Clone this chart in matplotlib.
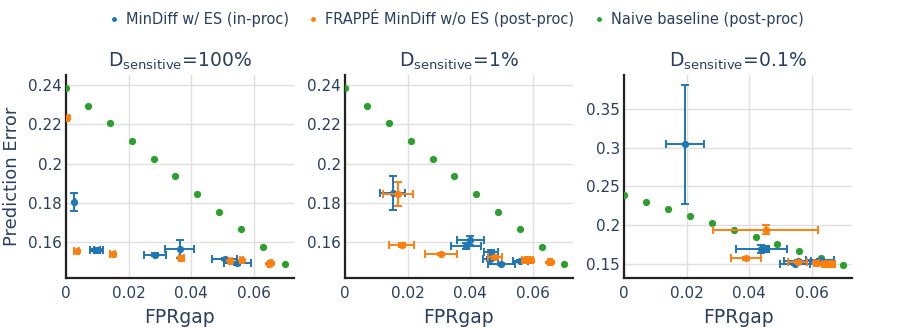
import matplotlib.pyplot as plt
from matplotlib.lines import Line2D
from matplotlib.ticker import FuncFormatter
import numpy as np

TXT = '#2a3f5f'
BLUE = '#1f77b4'
ORANGE = '#ff7f0e'
GREEN = '#2ca02c'

titles = ['D$_{\\mathrm{sensitive}}$=100%', 'D$_{\\mathrm{sensitive}}$=1%', 'D$_{\\mathrm{sensitive}}$=0.1%']
legendLabels = ['MinDiff w/ ES (in-proc)', 'FRAPPÉ MinDiff w/o ES (post-proc)', 'Naive baseline (post-proc)']

# naive baseline, same in every panel
naiveX = [0.0, 0.007, 0.014, 0.021, 0.028, 0.035, 0.042, 0.049, 0.056, 0.063, 0.070]
naiveY = [0.2385, 0.2295, 0.2205, 0.2116, 0.2026, 0.1937, 0.1847, 0.1757, 0.1668, 0.1578, 0.1488]

# MinDiff w/ ES
mdX = [[0.0027, 0.0093, 0.0103, 0.0285, 0.0364, 0.0508, 0.0548],
       [0.0153, 0.0401, 0.0387, 0.0468, 0.0465, 0.0500, 0.0561],
       [0.0195, 0.0438, 0.0454, 0.0545, 0.0555, 0.0625]]
mdY = [[0.1805, 0.1563, 0.1563, 0.1538, 0.1566, 0.1516, 0.1493],
       [0.1851, 0.1610, 0.1583, 0.1549, 0.1516, 0.1489, 0.1504],
       [0.3047, 0.1694, 0.1690, 0.1496, 0.1539, 0.1552]]
mdXerr = [[0.0003, 0.0015, 0.0015, 0.0034, 0.0047, 0.0040, 0.0044],
          [0.0040, 0.0044, 0.0047, 0.0022, 0.0024, 0.0044, 0.0024],
          [0.0060, 0.0082, 0.0010, 0.0048, 0.0043, 0.0045]]
mdYerr = [[0.0047, 0.0005, 0.0005, 0.0006, 0.0047, 0.0007, 0.0006],
          [0.0085, 0.0022, 0.0015, 0.0013, 0.0010, 0.0005, 0.0005],
          [0.0770, 0.0050, 0.0040, 0.0010, 0.0010, 0.0010]]

# FRAPPE MinDiff w/o ES
frX = [[0.0002, 0.0034, 0.0149, 0.0368, 0.0526, 0.0562, 0.0650, 0.0656],
       [0.0169, 0.0181, 0.0307, 0.0479, 0.0575, 0.0585, 0.0595, 0.0652, 0.0658],
       [0.0452, 0.0388, 0.0555, 0.0614, 0.0640, 0.0650, 0.0658, 0.0665]]
frY = [[0.2234, 0.1556, 0.1539, 0.1521, 0.1507, 0.1509, 0.1492, 0.1495],
       [0.1845, 0.1587, 0.1541, 0.1524, 0.1508, 0.1509, 0.1508, 0.1498, 0.1500],
       [0.1939, 0.1568, 0.1520, 0.1510, 0.1495, 0.1495, 0.1495, 0.1495]]
frXerr = [[0.0008, 0.0008, 0.0008, 0.0008, 0.0004, 0.0004, 0.0003, 0.0003],
          [0.0049, 0.0039, 0.0052, 0.0022, 0.0008, 0.0008, 0.0008, 0.0003, 0.0003],
          [0.0168, 0.0048, 0.0030, 0.0008, 0.0008, 0.0008, 0.0008, 0.0008]]
frYerr = [[0.0007, 0.0007, 0.0007, 0.0007, 0.0004, 0.0004, 0.0003, 0.0003],
          [0.0060, 0.0010, 0.0005, 0.0008, 0.0006, 0.0006, 0.0006, 0.0003, 0.0003],
          [0.0060, 0.0015, 0.0012, 0.0012, 0.0012, 0.0012, 0.0012, 0.0012]]

yLims = [(0.1419, 0.2451), (0.1419, 0.2451), (0.1315, 0.3943)]
yTicks = [[0.16, 0.18, 0.2, 0.22, 0.24], [0.16, 0.18, 0.2, 0.22, 0.24], [0.15, 0.2, 0.25, 0.3, 0.35]]
xTicks = [0, 0.02, 0.04, 0.06]

plt.rcParams['font.family'] = 'DejaVu Sans'

fig = plt.figure(figsize=[9, 3.3], dpi=100)
lefts = [66, 345, 624.3]
W, H = 900.0, 330.0
fmt = FuncFormatter(lambda v, p: '%g' % round(v, 4))

for i in range(3):
    ax = fig.add_axes([lefts[i] / W, (H - 278) / H, 227.5 / W, 203 / H])
    ax.set_axisbelow(True)
    ax.grid(True, color='#e0e0e0', linewidth=1.0)
    for side in ['top', 'right']:
        ax.spines[side].set_visible(False)
    for side in ['left', 'bottom']:
        ax.spines[side].set_color('#222222')
        ax.spines[side].set_linewidth(1.6)

    ax.plot(naiveX, naiveY, 'o', color=GREEN, markersize=4.2, zorder=3)
    ax.errorbar(mdX[i], mdY[i], xerr=mdXerr[i], yerr=mdYerr[i], fmt='o', color=BLUE,
                markersize=4.2, elinewidth=1.4, capsize=3, capthick=1.4, zorder=4)
    ax.errorbar(frX[i], frY[i], xerr=frXerr[i], yerr=frYerr[i], fmt='o', color=ORANGE,
                markersize=4.2, elinewidth=1.4, capsize=3, capthick=1.4, zorder=5)

    ax.set_xlim(0, 0.0728)
    ax.set_ylim(*yLims[i])
    ax.set_xticks(xTicks)
    ax.set_yticks(yTicks[i])
    ax.xaxis.set_major_formatter(fmt)
    ax.yaxis.set_major_formatter(fmt)
    ax.tick_params(length=0, labelsize=11, labelcolor=TXT)
    ax.tick_params(axis='x', pad=6)
    ax.tick_params(axis='y', pad=3)
    ax.set_xlabel('FPRgap', fontsize=13.5, color=TXT, labelpad=5)
    ax.set_title(titles[i], fontsize=13.5, color=TXT, pad=6)

fig.text(12 / W, 1 - 176 / H, 'Prediction Error', rotation=90, ha='center', va='center',
         fontsize=13, color=TXT)

handles = [Line2D([], [], marker='o', linestyle='', color=c, markersize=2.5)
           for c in [BLUE, ORANGE, GREEN]]
fig.legend(handles, legendLabels, loc='center', bbox_to_anchor=(455 / W, 1 - 18 / H), ncol=3,
           frameon=False, fontsize=10.5, labelcolor=TXT, handletextpad=0.3, columnspacing=1.2,
           handlelength=1.0)

fig.savefig('out.png', dpi=100)
